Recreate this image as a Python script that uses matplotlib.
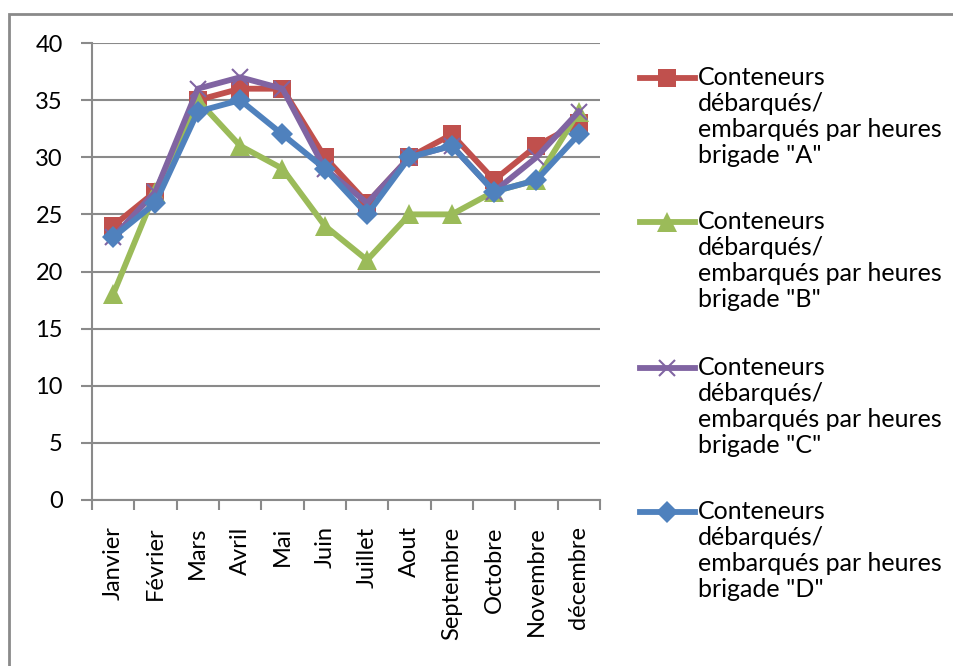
import matplotlib
matplotlib.use("Agg")
import matplotlib.pyplot as plt
from matplotlib.lines import Line2D
from matplotlib.patches import Rectangle

plt.rcParams['font.family'] = ['Lato', 'DejaVu Sans']

months = ["Janvier", "Février", "Mars", "Avril", "Mai", "Juin", "Juillet",
          "Aout", "Septembre", "Octobre", "Novembre", "décembre"]
brigade_a = [24, 27, 35, 36, 36, 30, 26, 30, 32, 28, 31, 33]
brigade_b = [18, 27, 35, 31, 29, 24, 21, 25, 25, 27, 28, 34]
brigade_c = [23, 27, 36, 37, 36, 29, 26, 30, 31, 27, 30, 34]
brigade_d = [23, 26, 34, 35, 32, 29, 25, 30, 31, 27, 28, 32]
y_ticks = [0, 5, 10, 15, 20, 25, 30, 35, 40]
labels = ['Conteneurs\ndébarqués/\nembarqués par heures\nbrigade "A"',
          'Conteneurs\ndébarqués/\nembarqués par heures\nbrigade "B"',
          'Conteneurs\ndébarqués/\nembarqués par heures\nbrigade "C"',
          'Conteneurs\ndébarqués/\nembarqués par heures\nbrigade "D"']

W, H = 954, 666
fig = plt.figure(figsize=(W / 100, H / 100), dpi=100)
ax = fig.add_axes([92 / W, 1 - 500 / H, (600 - 92) / W, (500 - 43) / H])

# outer chart border
fig.patches.append(Rectangle((9 / W, -0.1), 1.2, 1.1 - 14 / H, transform=fig.transFigure,
                             fill=False, edgecolor='#8a8a8a', linewidth=2, zorder=0))

styles = [
    dict(color='#C0504D', marker='s', ms=13.5, mew=0),
    dict(color='#9BBB59', marker='^', ms=15, mew=0),
    dict(color='#8064A2', marker='x', ms=12, mew=1.5),
    dict(color='#4F81BD', marker='D', ms=11.5, mew=0),
]
series = [brigade_a, brigade_b, brigade_c, brigade_d]
x = list(range(len(months)))
for vals, st in zip(series, styles):
    ax.plot(x, vals, color=st['color'], lw=4.2, marker=st['marker'],
            markersize=st['ms'], markeredgewidth=st['mew'],
            markeredgecolor=st['color'], markerfacecolor=st['color'],
            solid_joinstyle='round', zorder=3)

ax.set_xlim(-0.5, len(months) - 0.5)
ax.set_ylim(0, 40)
ax.set_yticks(y_ticks)
ax.set_yticklabels([str(v) for v in y_ticks], fontsize=17)
ax.grid(axis='y', color='#8a8a8a', lw=1.5)
ax.set_axisbelow(True)
ax.set_xticks([i - 0.5 for i in range(len(months) + 1)])
ax.set_xticklabels([])
ax.set_xticks(x, minor=True)
ax.set_xticklabels(months, minor=True, rotation=90, fontsize=17, va='top', ha='center')
ax.tick_params(axis='x', which='major', length=7, width=1.5, color='#8a8a8a', direction='out')
ax.tick_params(axis='x', which='minor', length=0, pad=19)
ax.tick_params(axis='y', length=8, width=1.5, color='#8a8a8a', pad=13)
for s in ['top', 'right']:
    ax.spines[s].set_visible(False)
for s in ['left', 'bottom']:
    ax.spines[s].set_color('#8a8a8a')
    ax.spines[s].set_linewidth(1.5)

# legend (manual, handles aligned with first line)
centers = [78, 222, 368, 512]
for lab, st, yc in zip(labels, styles, centers):
    yf = 1 - yc / H
    fig.add_artist(Line2D([640 / W, 695 / W], [yf, yf], transform=fig.transFigure,
                          color=st['color'], lw=4.2))
    fig.add_artist(Line2D([667 / W], [yf], transform=fig.transFigure,
                          color=st['color'], marker=st['marker'], markersize=st['ms'],
                          markeredgewidth=st['mew'], markeredgecolor=st['color'],
                          markerfacecolor=st['color'], lw=0))
    fig.text(698 / W, 1 - (yc - 12) / H, lab, fontsize=18, va='top', ha='left',
             linespacing=1.16, transform=fig.transFigure)

fig.savefig("out.png", dpi=100)
